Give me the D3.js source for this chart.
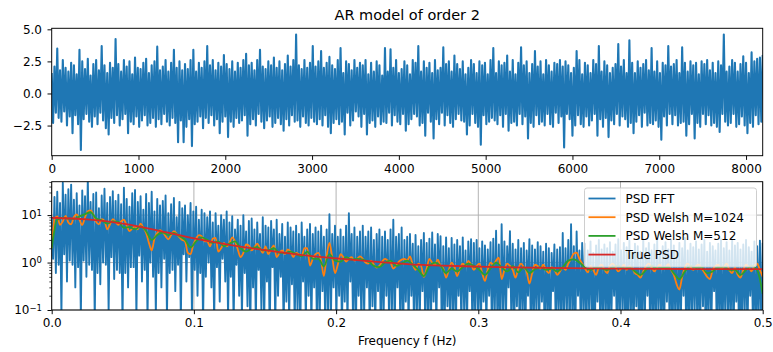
<!DOCTYPE html>
<html>
<head>
<meta charset="utf-8">
<script src="https://cdn.jsdelivr.net/npm/d3@7"></script>
<style>
  body { margin: 0; background: #fff; }
  svg { font-family: "DejaVu Sans", sans-serif; }
</style>
</head>
<body>
<div id="chart"></div>
<script>
// ---- data ----
// AR(2) time series, one local extreme every 16 samples (peak / trough alternate)
const tsStep = 16;
const tsValues = [
  1.6,-2.3,2.1,-1.5,3.5,-1.9,1.8,-2.2,2.6,-1.4,2.0,-2.5,1.7,-1.8,2.4,-3.1,
  2.2,-1.7,1.5,-2.4,3.4,-4.4,2.5,-2.0,1.9,-1.6,2.7,-2.2,1.4,-2.6,2.3,-1.8,
  2.6,-2.4,1.8,-1.5,3.7,-2.1,2.2,-2.7,1.6,-3.2,2.4,-1.9,2.0,-2.3,4.25,-1.7,
  2.3,-2.5,1.7,-2.0,2.6,-1.6,2.1,-3.1,2.5,-2.2,1.5,-2.4,2.8,-1.8,2.0,-2.6,
  1.9,-2.1,2.4,-1.7,2.7,-2.5,1.6,-2.3,2.2,-1.9,2.5,-2.6,3.65,-2.0,1.8,-2.4,
  2.1,-1.6,2.6,-2.2,1.7,-2.5,2.4,-1.9,3.4,-2.3,2.0,-3.8,2.5,-2.1,1.8,-3.8,
  2.3,-2.6,1.9,-2.0,2.6,-4.1,3.4,-2.4,1.7,-2.2,2.4,-1.8,2.0,-2.7,2.5,-1.9,
  3.7,-2.3,2.2,-1.7,2.6,-2.5,1.8,-2.0,2.4,-3.1,2.1,-2.2,3.0,-1.8,2.3,-3.4,
  1.9,-2.2,2.5,-2.6,1.7,-1.9,2.4,-2.3,2.0,-2.1,2.6,-1.7,3.1,-3.3,2.2,-2.4,
  2.4,-2.0,1.8,-2.5,2.6,-1.6,3.4,-2.2,2.1,-2.7,1.9,-2.1,2.5,-1.8,2.2,-2.6,
  2.8,-2.3,2.0,-1.9,2.5,-2.4,1.8,-2.9,2.3,-2.0,2.95,-2.5,2.1,-1.7,2.6,-2.2,
  4.6,-2.1,2.2,-2.6,1.9,-1.8,2.6,-2.3,2.0,-2.5,2.4,-1.9,3.7,-2.2,2.1,-2.4,
  2.5,-2.0,3.3,-2.5,2.0,-1.7,2.4,-2.6,2.85,-3.1,2.2,-2.3,1.9,-2.0,2.6,-2.4,
  3.55,-2.2,1.6,-3.2,2.5,-1.5,2.3,-2.5,1.8,-2.1,2.6,-1.4,2.0,-1.8,2.4,-2.6,
  2.2,-1.6,2.6,-3.2,1.5,-2.3,2.4,-2.1,1.7,-2.6,2.5,-1.8,2.2,-2.4,1.4,-2.2,
  3.55,-2.3,1.7,-1.5,3.45,-2.5,2.0,-1.7,2.6,-2.2,1.6,-2.4,1.9,-1.6,2.5,-2.9,
  2.2,-2.4,1.5,-2.0,2.6,-1.6,2.4,-1.8,3.7,-2.5,1.7,-2.3,2.5,-3.3,2.0,-1.5,
  2.4,-2.2,1.6,-3.5,2.6,-2.0,1.8,-2.4,2.0,-1.5,3.6,-2.5,2.3,-1.7,2.5,-2.3,
  1.7,-2.6,2.95,-2.0,2.3,-1.6,1.9,-2.1,2.5,-2.2,1.5,-3.2,2.0,-2.5,2.6,-1.6,
  2.3,-2.3,1.6,-2.6,2.5,-4.0,2.2,-1.7,2.4,-2.4,1.5,-2.2,2.6,-1.9,3.55,-2.1,
  1.6,-2.4,2.5,-1.7,2.2,-2.6,2.4,-1.6,2.95,-2.9,1.7,-2.3,2.6,-2.2,1.5,-2.5,
  2.4,-1.6,3.6,-2.4,2.2,-1.8,2.5,-3.5,1.6,-2.3,2.3,-2.6,3.3,-1.7,2.1,-2.4,
  2.5,-2.2,1.5,-2.5,2.6,-1.6,2.2,-2.4,1.7,-2.6,2.4,-1.5,2.3,-2.3,2.6,-1.8,
  2.1,-4.2,2.5,-1.6,2.2,-2.0,1.6,-3.3,2.0,-2.5,3.3,-1.7,2.6,-2.4,1.5,-2.6,
  2.4,-1.8,2.2,-2.5,1.6,-2.1,2.6,-1.6,2.3,-3.3,3.7,-2.0,1.7,-2.6,2.5,-1.9,
  2.2,-3.4,1.6,-2.1,2.0,-2.4,2.3,-1.6,3.85,-2.5,2.1,-1.8,2.6,-2.0,1.6,-2.6,
  4.15,-2.3,2.4,-3.1,1.6,-2.2,2.5,-1.7,2.0,-2.6,2.3,-1.5,2.6,-2.5,1.8,-2.3,
  3.55,-2.4,1.7,-2.1,2.5,-2.6,1.6,-3.6,2.4,-1.8,2.2,-2.5,3.7,-1.6,2.1,-2.4,
  2.3,-1.7,2.6,-2.5,1.6,-2.3,3.6,-2.2,2.4,-3.3,1.7,-2.4,2.5,-1.6,2.2,-3.5,
  2.4,-2.3,1.5,-2.6,2.5,-1.6,2.3,-2.4,2.6,-1.7,1.8,-2.5,2.4,-2.3,1.6,-2.6,
  2.5,-3.0,2.2,-1.6,4.6,-2.2,1.7,-2.5,2.1,-2.3,2.6,-1.6,2.4,-2.6,1.7,-2.4,
  2.3,-1.8,2.9,-2.5,2.4,-3.1,1.6,-2.3,3.2,-2.6,2.5,-1.7,2.7,-2.4,2.8,-2.2,
  3.0
];
const tsXTicks = [0, 1000, 2000, 3000, 4000, 5000, 6000, 7000, 8000];
const tsYTicks = [-2.5, 0, 2.5, 5.0];

// periodogram (FFT), frequency step 1/1024, peak / dip alternate
const fftStep = 1 / 1024;
const psdFFT = [
  9,1.2,24,0.6,31,0.9,18,0.08,48,1.5,27,0.4,35,1.1,44,0.9,
  21,0.3,29,0.8,16,0.07,33,1.1,25,0.5,60,0.9,19,0.7,28,0.06,
  30,0.6,14,0.35,26,1.0,36,0.9,18,0.09,24,1.3,32,0.45,20,0.7,
  27,0.6,17,0.05,38,0.6,22,0.3,15,0.8,29,0.8,34,0.07,19,1.4,
  25,0.4,13,0.7,28,0.06,18,1.0,31,0.5,12,0.08,22,0.6,16,0.3,
  20,1.2,26,0.07,11,0.6,17,0.7,23,0.25,9,0.9,19,0.06,14,1.5,
  16,0.4,10,1.3,18,0.08,12,0.7,15,0.2,8,0.6,13,0.05,11,0.5,
  9,1.0,12,0.3,7,0.06,11,0.8,6,0.15,10,1.2,8,0.4,12,0.07,
  7,0.5,9.5,0.05,5,0.9,8,0.2,6,0.07,10,0.6,4.5,0.12,7.5,0.04,
  8.5,0.3,5,0.06,7,0.7,4,0.1,9,0.05,6,0.4,5.5,0.03,7.5,0.8,
  5,0.05,8,0.2,4,0.5,6.5,0.04,3.5,0.15,7,0.06,5.5,0.35,4.5,0.05,
  6,0.1,4,0.03,7,0.4,3.5,0.06,5,0.2,6.5,0.05,4,0.3,5.5,0.04,
  4.5,0.06,6,0.25,3.5,0.04,5,0.1,10.4,0.05,4,0.3,6,0.07,3.5,0.2,
  5,0.04,3.5,0.15,6,0.05,11,0.4,4,0.06,5.5,0.03,3.5,0.2,4.5,0.05,
  6,0.08,3.5,0.3,4.5,0.04,5.5,0.12,3,0.05,4,0.25,5,0.03,3.5,0.07,
  4.5,0.2,3,0.05,5,0.1,8,0.04,3.5,0.3,4,0.06,5.5,0.02,3,0.15,
  3.5,0.05,4,0.2,2.5,0.03,3.8,0.1,2.2,0.05,3,0.25,4.2,0.04,2.6,0.08,
  3.2,0.03,4.3,0.15,2.4,0.05,4,0.3,3.6,0.02,2.2,0.06,3.4,0.12,2.0,0.04,
  3.3,0.08,2.4,0.03,3.0,0.2,2.2,0.05,3.4,0.1,1.8,0.04,2.8,0.25,3.1,0.03,
  2.6,0.06,3.0,0.1,2.0,0.03,2.8,0.15,2.3,0.05,1.9,0.2,2.7,0.04,3.2,0.07,
  4.7,0.05,2.4,0.02,6.4,0.1,2.8,0.04,2.2,0.3,4.6,0.06,2.5,0.03,1.9,0.12,
  3.0,0.04,2.0,0.08,2.6,0.02,1.8,0.2,3.1,0.05,2.3,0.03,1.9,0.1,2.7,0.04,
  2.2,0.15,1.7,0.03,2.5,0.06,2.0,0.02,1.6,0.25,2.4,0.04,1.9,0.08,2.1,0.03,
  4.2,0.05,2.0,0.1,3.0,0.03,6.4,0.06,2.2,0.02,4.5,0.2,1.8,0.04,2.6,0.07,
  2.5,0.03,1.8,0.1,2.8,0.04,1.6,0.02,2.3,0.15,3.0,0.05,1.9,0.03,2.4,0.08,
  2.0,0.02,2.7,0.06,1.7,0.2,2.4,0.03,3.1,0.05,1.8,0.1,2.6,0.02,2.1,0.04,
  2.9,0.07,1.6,0.03,2.5,0.12,2.2,0.02,1.7,0.05,3.2,0.04,2.0,0.2,2.6,0.03,
  1.8,0.06,2.4,0.02,2.9,0.1,1.6,0.04,2.2,0.03,2.7,0.15,1.9,0.05,3.0,0.02,
  2.3,0.08,1.7,0.03,2.6,0.05,2.0,0.2,3.3,0.02,1.8,0.06,2.5,0.04,2.1,0.1,
  2.8,0.03,1.9,0.05,2.4,0.12,3.0,0.02,1.7,0.07,2.6,0.04,2.2,0.25,1.8,0.03,
  2.5,0.05,3.1,0.02,2.0,0.1,2.7,0.04,1.8,0.06,2.9,0.03,2.3,0.15,2.6,0.02,
  1.9,0.04,2.4,0.08,3.0,0.03,2.1,0.2,1.7,0.05,2.8,0.02,2.2,0.06,2.9,0.04,
  2.6
];

// Welch estimate, M=1024 (frequency step 1/512)
const welchStep1024 = 1 / 512;
const psdWelch1024 = [
  2.0,8.2,9.4,6.2,7.4,9.6,7.0,6.4,9.2,10.4,8.0,6.2,9.0,12.0,12.6,10.2,
  7.2,6.4,8.2,7.6,5.0,6.4,8.2,7.2,6.2,7.4,8.0,6.0,4.6,5.2,5.8,5.0,
  6.6,5.4,4.2,2.6,1.8,3.2,4.2,4.8,4.4,3.6,3.1,3.8,4.6,4.0,3.4,3.0,
  2.8,1.6,1.5,2.4,3.2,3.8,3.6,2.8,2.8,2.2,3.2,3.3,1.7,2.0,2.6,2.2,
  2.6,3.4,2.8,1.9,1.3,1.6,2.4,2.3,1.8,2.1,2.5,2.0,1.6,2.2,1.5,1.9,
  2.3,1.3,1.6,1.8,1.5,1.9,1.7,1.3,1.6,1.5,1.35,2.0,2.0,0.86,1.2,1.5,
  1.6,1.1,0.52,1.4,2.6,1.3,0.6,0.9,1.5,1.3,1.05,1.2,1.3,1.1,1.2,1.35,
  1.2,1.0,0.95,1.1,0.9,0.78,0.85,1.05,1.2,1.1,1.0,0.75,0.85,1.05,1.15,1.2,
  1.1,1.35,0.9,0.7,0.95,0.85,0.5,0.75,1.2,1.0,0.9,1.15,0.85,0.75,0.48,0.7,
  1.0,0.8,0.52,0.75,0.95,0.85,1.08,0.9,0.7,0.85,0.95,0.6,0.41,0.7,1.0,0.9,
  1.1,1.27,0.45,0.7,0.95,0.85,0.7,0.48,0.75,0.95,0.8,0.65,0.36,0.6,0.9,0.85,
  0.75,0.9,0.7,0.6,0.8,0.72,0.55,0.65,0.8,0.7,0.95,1.2,1.55,1.62,1.2,0.95,
  0.75,0.62,0.85,0.7,0.55,0.8,0.9,0.72,0.6,0.85,0.95,0.8,0.65,0.75,0.9,0.7,
  0.85,0.75,0.6,0.55,0.48,0.65,0.85,0.95,0.78,0.65,0.8,0.9,0.72,0.8,0.92,0.7,
  0.55,0.35,0.27,0.5,0.8,0.95,0.8,0.7,0.85,0.9,0.75,0.62,0.5,0.45,0.7,0.85,
  0.9,0.75,0.8,0.95,0.7,0.6,0.78,0.55,0.48,0.7,0.9,0.8,0.65,0.85,0.95,0.7,
  0.5
];

// Welch estimate, M=512 (frequency step 1/256)
const welchStep512 = 1 / 256;
const psdWelch512 = [
  2.0,8.0,8.8,8.4,8.2,9.4,10.5,11.5,8.5,7.8,6.6,7.4,7.2,5.4,5.6,5.0,
  5.8,4.6,3.0,3.8,4.3,3.8,4.2,3.6,3.0,2.1,2.8,3.4,3.0,2.6,2.8,2.2,
  2.5,2.8,2.0,1.7,2.0,2.1,1.8,1.8,2.0,1.6,1.6,1.7,1.5,1.35,1.7,1.2,
  1.2,0.84,1.5,1.1,1.05,1.3,1.15,1.2,1.15,1.05,0.85,0.8,1.0,1.1,0.85,0.95,
  1.1,0.9,0.7,0.52,0.85,1.0,0.85,0.6,0.75,0.65,0.8,0.95,0.85,0.7,0.55,0.75,
  1.0,0.8,0.65,0.85,0.62,0.8,0.6,0.72,0.8,0.7,0.75,0.65,0.8,1.1,1.17,1.0,
  0.8,0.7,0.8,0.75,0.7,0.8,0.85,0.75,0.78,0.65,0.55,0.7,0.85,0.75,0.8,0.8,
  0.6,0.45,0.65,0.85,0.78,0.8,0.6,0.65,0.8,0.82,0.7,0.7,0.55,0.7,0.85,0.7,
  0.22
];

// true AR(2) spectrum, frequency step 0.025
const trueStep = 0.025;
const psdTrue = [
  8.8,8.1,6.6,4.7,3.24,2.37,1.82,1.45,1.23,1.06,0.93,
  0.86,0.82,0.79,0.77,0.755,0.745,0.735,0.73,0.726,0.724
];

const freqTicks = [0, 0.1, 0.2, 0.3, 0.4, 0.5];
const psdMajorTicks = [0.1, 1, 10];
const psdMinorTicks = [0.2,0.3,0.4,0.5,0.6,0.7,0.8,0.9,2,3,4,5,6,7,8,9,20,30,40,50];

const seriesNames = ["PSD FFT", "PSD Welsh M=1024", "PSD Welsh M=512", "True PSD"];
const seriesColors = ["#1f77b4", "#ff7f0e", "#2ca02c", "#d62728"];

// ---- drawing ----
const W = 773, H = 352;
const L = 51.7, R = 762.7;
const top1 = 28.3, bot1 = 155.7;
const top2 = 181.7, bot2 = 310;

const svg = d3.select("#chart").append("svg")
  .attr("width", W)
  .attr("height", H);

svg.append("rect").attr("width", W).attr("height", H).attr("fill", "#fff");

const defs = svg.append("defs");
defs.append("clipPath").attr("id", "clip1").append("rect")
  .attr("x", L).attr("y", top1).attr("width", R - L).attr("height", bot1 - top1);
defs.append("clipPath").attr("id", "clip2").append("rect")
  .attr("x", L).attr("y", top2).attr("width", R - L).attr("height", bot2 - top2);

function styleAxis(g, fontSize) {
  g.select(".domain").remove();
  g.attr("font-family", null).attr("font-size", null);
  g.selectAll(".tick line").attr("stroke", "#000").attr("stroke-width", 0.96);
  g.selectAll(".tick text").attr("fill", "#000").style("font-size", fontSize + "px");
}

// top panel: time series
const xT = d3.scaleLinear().domain([0, 8192]).range([L, R]);
const yT = d3.scaleLinear().domain([-4.85, 5.08]).range([bot1, top1]);

const tsLine = d3.line()
  .x((d, i) => xT(i * tsStep))
  .y(d => yT(d));

svg.append("path")
  .datum(tsValues)
  .attr("clip-path", "url(#clip1)")
  .attr("d", tsLine)
  .attr("fill", "none")
  .attr("stroke", "#1f77b4")
  .attr("stroke-width", 2.1)
  .attr("stroke-linejoin", "round");

svg.append("g")
  .attr("transform", `translate(0,${bot1})`)
  .call(d3.axisBottom(xT).tickValues(tsXTicks).tickFormat(d3.format("d"))
    .tickSize(4.2).tickPadding(4.2).tickSizeOuter(0))
  .call(g => styleAxis(g, 12));

svg.append("g")
  .attr("transform", `translate(${L},0)`)
  .call(d3.axisLeft(yT).tickValues(tsYTicks).tickFormat(d3.format(".1f"))
    .tickSize(4.2).tickPadding(5.5).tickSizeOuter(0))
  .call(g => styleAxis(g, 12));

svg.append("rect")
  .attr("x", L).attr("y", top1).attr("width", R - L).attr("height", bot1 - top1)
  .attr("fill", "none").attr("stroke", "#000").attr("stroke-width", 0.96);

svg.append("text")
  .attr("x", (L + R) / 2)
  .attr("y", 19.5)
  .attr("text-anchor", "middle")
  .style("font-size", "14.5px")
  .text("AR model of order 2");

// bottom panel: spectra
const xB = d3.scaleLinear().domain([0, 0.5]).range([L, R]);
const yB = d3.scaleLog().domain([0.1, 50.6]).range([bot2, top2]);

const grid = svg.append("g").attr("stroke", "#b0b0b0").attr("stroke-width", 0.96);
grid.selectAll("line.gx").data(freqTicks).enter().append("line")
  .attr("x1", d => xB(d)).attr("x2", d => xB(d))
  .attr("y1", top2).attr("y2", bot2);
grid.selectAll("line.gy").data(psdMajorTicks).enter().append("line")
  .attr("x1", L).attr("x2", R)
  .attr("y1", d => yB(d)).attr("y2", d => yB(d));

const plot2 = svg.append("g").attr("clip-path", "url(#clip2)");

const spectra = [
  { values: psdFFT, step: fftStep, curve: d3.curveLinear, width: 1.9 },
  { values: psdWelch1024, step: welchStep1024, curve: d3.curveMonotoneX, width: 1.8 },
  { values: psdWelch512, step: welchStep512, curve: d3.curveMonotoneX, width: 1.8 },
  { values: psdTrue, step: trueStep, curve: d3.curveMonotoneX, width: 1.8 }
];

spectra.forEach((s, k) => {
  const line = d3.line()
    .x((d, i) => xB(i * s.step))
    .y(d => yB(d))
    .curve(s.curve);
  plot2.append("path")
    .datum(s.values)
    .attr("d", line)
    .attr("fill", "none")
    .attr("stroke", seriesColors[k])
    .attr("stroke-width", s.width)
    .attr("stroke-linejoin", "round");
});

svg.append("g")
  .attr("transform", `translate(0,${bot2})`)
  .call(d3.axisBottom(xB).tickValues(freqTicks).tickFormat(d3.format(".1f"))
    .tickSize(4.2).tickPadding(4.2).tickSizeOuter(0))
  .call(g => styleAxis(g, 12));

const yAxisB = svg.append("g")
  .attr("transform", `translate(${L},0)`)
  .call(d3.axisLeft(yB).tickValues(psdMajorTicks).tickFormat(d => "10")
    .tickSize(4.2).tickPadding(5.5).tickSizeOuter(0))
  .call(g => styleAxis(g, 12));

yAxisB.selectAll(".tick text").each(function(d) {
  const e = Math.round(Math.log10(d));
  d3.select(this).append("tspan")
    .attr("dy", "-0.45em")
    .style("font-size", "8.5px")
    .text(e < 0 ? "\u2212" + (-e) : String(e));
});

svg.append("g")
  .attr("transform", `translate(${L},0)`)
  .call(d3.axisLeft(yB).tickValues(psdMinorTicks).tickFormat("")
    .tickSize(2.4).tickSizeOuter(0))
  .call(g => {
    g.select(".domain").remove();
    g.selectAll(".tick line").attr("stroke", "#000").attr("stroke-width", 0.72);
  });

svg.append("rect")
  .attr("x", L).attr("y", top2).attr("width", R - L).attr("height", bot2 - top2)
  .attr("fill", "none").attr("stroke", "#000").attr("stroke-width", 0.96);

svg.append("text")
  .attr("x", (L + R) / 2)
  .attr("y", 345)
  .attr("text-anchor", "middle")
  .style("font-size", "12px")
  .text("Frequency f (Hz)");

// legend
const legend = svg.append("g");
legend.append("rect")
  .attr("x", 584.5).attr("y", 188).attr("width", 172).attr("height", 79)
  .attr("rx", 2.5)
  .attr("fill", "#fff").attr("fill-opacity", 0.8)
  .attr("stroke", "#cccccc").attr("stroke-width", 0.96);

const legendRows = legend.selectAll("g.row").data(seriesNames).enter().append("g")
  .attr("transform", (d, i) => `translate(0,${198.5 + i * 18.7})`);
legendRows.append("line")
  .attr("x1", 588.5).attr("x2", 615.5)
  .attr("stroke", (d, i) => seriesColors[i])
  .attr("stroke-width", 1.8);
legendRows.append("text")
  .attr("x", 625.5)
  .attr("dy", "0.36em")
  .style("font-size", "12px")
  .text(d => d);
</script>
</body>
</html>
